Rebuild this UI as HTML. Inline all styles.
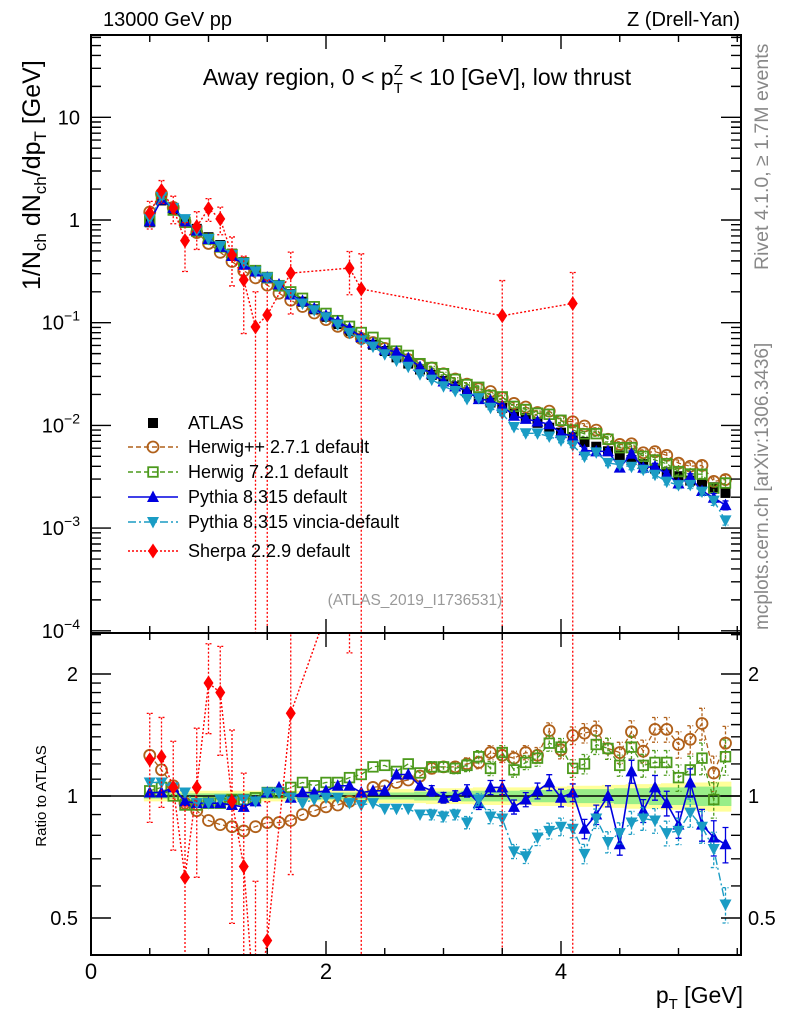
<!DOCTYPE html>
<html><head><meta charset="utf-8"><style>
html,body{margin:0;padding:0;background:#fff;overflow:hidden;width:786px;height:1024px;}
svg{display:block;font-family:"Liberation Sans",Arial,sans-serif;}
</style></head><body>
<svg id="chart" width="786" height="1024" viewBox="0 0 786 1024" xmlns="http://www.w3.org/2000/svg">
<defs>
<clipPath id="cm"><rect x="91" y="35" width="650" height="598"/></clipPath>
<clipPath id="cr"><rect x="91" y="633" width="650" height="322"/></clipPath>
</defs>
<text x="103" y="26" font-size="20">13000 GeV pp</text>
<text x="740" y="26" font-size="20" text-anchor="end">Z (Drell-Yan)</text>
<text x="417" y="85" font-size="23" text-anchor="middle">Away region, 0 &lt; p<tspan font-size="15" dy="8">T</tspan><tspan font-size="15" dx="-9" dy="-18">Z</tspan><tspan dy="10"> &lt; 10 [GeV], low thrust</tspan></text>
<text transform="translate(40,290) rotate(-90)" font-size="25">1/N<tspan font-size="17" dy="6">ch</tspan><tspan dy="-6"> dN</tspan><tspan font-size="17" dy="6">ch</tspan><tspan dy="-6">/dp</tspan><tspan font-size="17" dy="6">T</tspan><tspan dy="-6"> [GeV]</tspan></text>
<text transform="translate(46,796) rotate(-90)" font-size="15" text-anchor="middle">Ratio to ATLAS</text>
<text transform="translate(768,270) rotate(-90)" font-size="19.5" fill="#888">Rivet 4.1.0, ≥ 1.7M events</text>
<text transform="translate(768,630) rotate(-90)" font-size="19" fill="#888">mcplots.cern.ch [arXiv:1306.3436]</text>
<text x="415" y="605" font-size="15.5" fill="#999" text-anchor="middle">(ATLAS_2019_I1736531)</text>
<text x="743" y="1003" font-size="23" text-anchor="end">p<tspan font-size="15" dy="6">T</tspan><tspan dy="-6"> [GeV]</tspan></text>
<g id="gm" clip-path="url(#cm)"></g>
<g id="gr" clip-path="url(#cr)"></g>
<g id="axes"></g>
<g id="legend"></g>
</svg>
<script>
const pT=[0.5,0.6,0.7,0.8,0.9,1.0,1.1,1.2,1.3,1.4,1.5,1.6,1.7,1.8,1.9,2.0,2.1,2.2,2.3,2.4,2.5,2.6,2.7,2.8,2.9,3.0,3.1,3.2,3.3,3.4,3.5,3.6,3.7,3.8,3.9,4.0,4.1,4.2,4.3,4.4,4.5,4.6,4.7,4.8,4.9,5.0,5.1,5.2,5.3,5.4];
const atlas=[0.95,1.55,1.25,1.0,0.82,0.68,0.57,0.47,0.39,0.325,0.27,0.225,0.19,0.16,0.135,0.114,0.097,0.083,0.071,0.061,0.053,0.046,0.040,0.035,0.031,0.027,0.024,0.021,0.0188,0.0167,0.0148,0.0132,0.0118,0.0106,0.0095,0.0085,0.0077,0.0069,0.0062,0.0056,0.0051,0.0046,0.0042,0.0038,0.0035,0.0032,0.0029,0.0027,0.0025,0.0022];
const herwigppRatio=[1.26,1.16,1.06,0.96,0.92,0.87,0.85,0.84,0.82,0.84,0.86,0.86,0.87,0.9,0.92,0.94,0.95,0.97,0.99,1.05,1.06,1.08,1.095,1.12,1.17,1.18,1.18,1.2,1.21,1.28,1.26,1.24,1.28,1.26,1.45,1.30,1.41,1.43,1.45,1.31,1.28,1.44,1.29,1.46,1.46,1.34,1.38,1.51,1.14,1.35];
const herwig7Ratio=[1.03,1.05,1.0,0.95,0.95,0.96,0.96,0.98,0.98,0.99,1.02,1.02,1.05,1.08,1.06,1.08,1.08,1.11,1.13,1.18,1.19,1.15,1.2,1.14,1.18,1.18,1.17,1.19,1.25,1.17,1.28,1.16,1.21,1.24,1.35,1.32,1.17,1.2,1.34,1.31,1.19,1.32,1.19,1.21,1.21,1.11,1.16,1.24,0.98,1.25];
const pythiaRatio=[1.02,1.02,1.05,0.97,0.96,0.96,0.96,0.95,0.94,0.97,1.02,1.05,0.99,1.02,1.02,1.03,1.06,1.06,1.02,1.03,1.03,1.13,1.13,1.06,1.03,0.99,1.0,1.03,0.96,1.05,1.05,0.94,0.98,1.03,1.08,0.99,1.02,0.83,0.9,1.0,0.76,1.15,0.92,1.05,0.96,0.85,1.08,0.85,0.79,0.76];
const vinciaRatio=[1.08,1.08,1.05,1.02,0.96,0.96,0.98,0.97,0.98,0.97,1.02,1.02,0.99,0.96,0.98,0.99,0.99,0.96,0.95,0.96,0.93,0.93,0.93,0.9,0.9,0.89,0.9,0.86,0.98,0.89,0.88,0.73,0.71,0.79,0.82,0.84,0.83,0.72,0.88,0.77,0.81,0.86,0.88,0.87,0.81,0.82,0.91,0.84,0.74,0.54];
const sherpaRatio=[1.23,1.25,1.05,0.63,1.05,1.9,1.8,0.97,0.67,0.28,0.44,null,1.6,null,null,null,null,4.1,3.0,null,null,null,null,null,null,null,null,null,null,null,7.9,null,null,null,null,null,20,null,null,null,null,null,null,null,null,null,null,null,null,null];
const sherpaErr=[0.3,0.25,0.3,0.5,0.4,0.25,0.3,0.5,0.7,1.2,1.2,null,0.6,null,null,null,null,0.45,1.2,null,null,null,null,null,null,null,null,null,null,null,1.2,null,null,null,null,null,1.0,null,null,null,null,null,null,null,null,null,null,null,null,null];
const mcErr=[0.01,0.01,0.01,0.01,0.01,0.01,0.01,0.01,0.01,0.01,0.015,0.015,0.015,0.015,0.015,0.015,0.015,0.015,0.015,0.015,0.02,0.02,0.025,0.025,0.03,0.03,0.03,0.035,0.035,0.04,0.04,0.04,0.04,0.045,0.045,0.05,0.05,0.055,0.055,0.06,0.06,0.065,0.065,0.07,0.07,0.075,0.08,0.09,0.1,0.1];
const bandTot=[0.03,0.03,0.03,0.03,0.03,0.03,0.03,0.03,0.03,0.03,0.03,0.03,0.03,0.03,0.03,0.035,0.035,0.035,0.035,0.04,0.04,0.04,0.04,0.04,0.045,0.045,0.045,0.045,0.05,0.05,0.05,0.05,0.05,0.055,0.055,0.055,0.06,0.06,0.06,0.065,0.065,0.07,0.07,0.07,0.075,0.075,0.08,0.08,0.085,0.085];
const bandStat=[0.015,0.015,0.015,0.015,0.015,0.015,0.015,0.015,0.015,0.015,0.015,0.015,0.015,0.015,0.015,0.02,0.02,0.02,0.02,0.02,0.02,0.02,0.02,0.025,0.025,0.025,0.025,0.03,0.03,0.03,0.03,0.03,0.035,0.035,0.035,0.035,0.04,0.04,0.04,0.04,0.045,0.045,0.045,0.05,0.05,0.05,0.05,0.055,0.055,0.055];
const mainDecades=[-4,-3,-2,-1,0,1];
const ratioMajor=[0.5,1,2];
const xMajor=[0,2,4];

const NS='http://www.w3.org/2000/svg';
function mk(tag,attrs,parent){const e=document.createElementNS(NS,tag);for(const k in attrs)e.setAttribute(k,attrs[k]);parent.appendChild(e);return e;}
const X=p=>91+p*117.5;
const YM=v=>220-Math.log10(v)*102.7;
const YR=r=>796-Math.log2(r)*122;
const gm=document.getElementById('gm'),gr=document.getElementById('gr'),ax=document.getElementById('axes'),lg=document.getElementById('legend');

function marker(g,type,x,y,c){
  let e;
  if(type==='fsq') e=mk('rect',{x:x-5,y:y-5,width:10,height:10,fill:c},g);
  else if(type==='circ') e=mk('circle',{cx:x,cy:y,r:5.5,fill:'none',stroke:c,'stroke-width':1.8},g);
  else if(type==='osq') e=mk('rect',{x:x-4.8,y:y-4.8,width:9.6,height:9.6,fill:'none',stroke:c,'stroke-width':1.8},g);
  else if(type==='tup') e=mk('polygon',{points:`${x},${y-6.5} ${x-6},${y+5} ${x+6},${y+5}`,fill:c},g);
  else if(type==='tdn') e=mk('polygon',{points:`${x-6},${y-5} ${x+6},${y-5} ${x},${y+6.5}`,fill:c},g);
  else e=mk('polygon',{points:`${x},${y-7.5} ${x+5},${y} ${x},${y+7.5} ${x-5},${y}`,fill:c},g);
  return e;
}

let ty='',gy='',tb='',gb='';
for(let i=0;i<pT.length;i++){
  const x0=X(pT[i]-0.05),x1=X(pT[i]+0.05);
  ty+=`${x0},${YR(1+bandTot[i])} ${x1},${YR(1+bandTot[i])} `;
  tb=`${x1},${YR(1-bandTot[i])} ${x0},${YR(1-bandTot[i])} `+tb;
  gy+=`${x0},${YR(1+bandStat[i])} ${x1},${YR(1+bandStat[i])} `;
  gb=`${x1},${YR(1-bandStat[i])} ${x0},${YR(1-bandStat[i])} `+gb;
}
const by=mk('polygon',{points:ty+tb,fill:'#ffff99'},gr);


const bg=mk('polygon',{points:gy+gb,fill:'#99ee88'},gr);


const l1=mk('line',{x1:91,x2:741,y1:YR(1),y2:YR(1),stroke:'#000','stroke-width':1.5},gr);



for(let i=0;i<pT.length;i++){
  const m=marker(gm,'fsq',X(pT[i]),YM(atlas[i]),'#000');
  
  
}

const series=[
 {name:'herwigpp',r:herwigppRatio,c:'#b0601a',t:'circ',d:'5,3',w:1.3},
 {name:'herwig7',r:herwig7Ratio,c:'#4c9a1c',t:'osq',d:'5,3',w:1.3},
 {name:'pythia',r:pythiaRatio,c:'#0000e0',t:'tup',d:'',w:1.6},
 {name:'vincia',r:vinciaRatio,c:'#1a9cc4',t:'tdn',d:'8,3,2,3',w:1.4},
];
for(const s of series){
  for(const [g,Y,isR] of [[gm,YM,false],[gr,YR,true]]){
    const val=i=>isR?s.r[i]:s.r[i]*atlas[i];
    let pts='';
    for(let i=0;i<pT.length;i++)pts+=`${X(pT[i])},${Y(val(i))} `;
    const pl=mk('polyline',{points:pts,fill:'none',stroke:s.c,'stroke-width':s.w,'stroke-dasharray':s.d},g);
    
    
    for(let i=0;i<pT.length;i++){
      const v=val(i),x=X(pT[i]);
      if(mcErr[i]>=0.03){
        const eb=mk('path',{d:`M${x},${Y(v*(1+mcErr[i]))}V${Y(v*(1-mcErr[i]))}M${x-3},${Y(v*(1+mcErr[i]))}h6M${x-3},${Y(v*(1-mcErr[i]))}h6`,stroke:s.c,'stroke-width':1.3,fill:'none','stroke-dasharray':s.d?'3,2':''},g);
        
        
      }
      const m=marker(g,s.t,x,Y(v),s.c);
      
      
    }
  }
}
for(const [g,Y,isR,bottom] of [[gm,YM,false,640],[gr,YR,true,960]]){
  let pts='';
  for(let i=0;i<pT.length;i++){
    if(sherpaRatio[i]===null)continue;
    const v=isR?sherpaRatio[i]:sherpaRatio[i]*atlas[i];
    pts+=`${X(pT[i])},${Y(v)} `;
  }
  const pl=mk('polyline',{points:pts,fill:'none',stroke:'#ff0000','stroke-width':1.4,'stroke-dasharray':'2,2'},g);
  
  
  for(let i=0;i<pT.length;i++){
    if(sherpaRatio[i]===null)continue;
    const v=isR?sherpaRatio[i]:sherpaRatio[i]*atlas[i],x=X(pT[i]),e=sherpaErr[i];
    const yt=Y(v*(1+e)),yb=(1-e)>0?Y(v*(1-e)):bottom;
    const eb=mk('path',{d:`M${x},${yt}V${yb}M${x-3},${yt}h6M${x-3},${yb}h6`,stroke:'#ff0000','stroke-width':1.3,'stroke-dasharray':'2,2',fill:'none'},g);
    
    
    const m=marker(g,'dia',x,Y(v),'#ff0000');
    
    
  }
}

const f1=mk('rect',{x:91,y:35,width:650,height:598,fill:'none',stroke:'#000','stroke-width':2},ax);


const f2=mk('rect',{x:91,y:633,width:650,height:322,fill:'none',stroke:'#000','stroke-width':2},ax);


let tk='';
for(let p=0;p<=5.5;p+=0.5){
  const x=X(p),L=(Math.abs(p%2)<1e-6)?14:7;
  for(const y of [35,633]) tk+=`M${x},${y}v${L}`;
  for(const y of [633,955]) tk+=`M${x},${y}v${-L}`;
}
for(const d of mainDecades){
  for(let k=1;k<10;k++){
    const v=k*Math.pow(10,d),y=YM(v);
    if(y<35||y>633)continue;
    const L=k===1?20:10;
    tk+=`M91,${y}h${L}M741,${y}h${-L}`;
  }
}
for(let r=0.4;r<=2.55;r+=(r<1.999?0.1:0.5)){
  const y=YR(r);if(y<633||y>955)continue;
  const L=ratioMajor.some(m=>Math.abs(m-r)<1e-6)?20:10;
  tk+=`M91,${y}h${L}M741,${y}h${-L}`;
}
const tp=mk('path',{d:tk,stroke:'#000','stroke-width':1.4,fill:'none'},ax);


for(const p of xMajor){
  const t=mk('text',{x:X(p),y:979,'font-size':22,'text-anchor':'middle'},ax);
  t.textContent=String(p);
  
  
}
for(const d of mainDecades){
  const t=mk('text',{x:80,y:YM(Math.pow(10,d))+7,'font-size':20,'text-anchor':'end'},ax);
  if(d===0)t.textContent='1';
  else if(d===1)t.textContent='10';
  else{t.textContent='10';const s=mk('tspan',{'font-size':14,dy:-9},t);s.textContent='−'+(-d);}
  
  
}
for(const r of ratioMajor){
  for(const [x,a] of [[78,'end'],[748,'start']]){
    const t=mk('text',{x:x,y:YR(r)+7,'font-size':20,'text-anchor':a},ax);
    t.textContent=String(r);
    
    
  }
}
const leg=[
 ['ATLAS','fsq','#000',null,'legend-atlas'],
 ['Herwig++ 2.7.1 default','circ','#b0601a','5,3','legend-herwigpp'],
 ['Herwig 7.2.1 default','osq','#4c9a1c','5,3','legend-herwig7'],
 ['Pythia 8.315 default','tup','#0000e0','','legend-pythia'],
 ['Pythia 8.315 vincia-default','tdn','#1a9cc4','8,3,2,3','legend-vincia'],
 ['Sherpa 2.2.9 default','dia','#ff0000','2,2','legend-sherpa']];
const legY=[423,447,472,497,522,551];
leg.forEach((L,i)=>{
  const g=mk('g',{},lg);
  
  
  const y=legY[i];
  if(L[3]!==null)mk('line',{x1:128,x2:178,y1:y,y2:y,stroke:L[2],'stroke-width':1.4,'stroke-dasharray':L[3]},g);
  marker(g,L[1],153,y,L[2]);
  const t=mk('text',{x:188,y:y+6,'font-size':18},g);
  t.textContent=L[0];
});
</script>
</body></html>
